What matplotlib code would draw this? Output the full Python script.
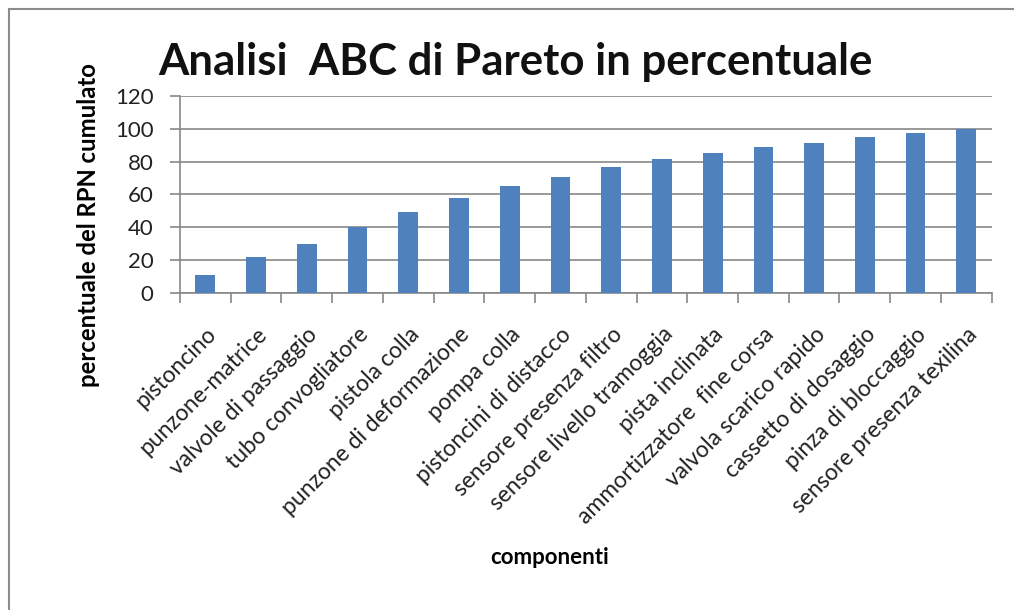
import matplotlib.pyplot as plt
from matplotlib.patches import Rectangle
import numpy as np


COMPONENTS = [
    "pistoncino",
    "punzone-matrice",
    "valvole di passaggio",
    "tubo convogliatore",
    "pistola colla",
    "punzone di deformazione",
    "pompa colla",
    "pistoncini di distacco",
    "sensore presenza filtro",
    "sensore livello tramoggia",
    "pista inclinata",
    "ammortizzatore  fine corsa",
    "valvola scarico rapido",
    "cassetto di dosaggio",
    "pinza di bloccaggio",
    "sensore presenza texilina",
]

# cumulative RPN percentage
RPN_CUM_PCT = [11, 22, 30, 40, 49.3, 57.7, 65, 70.8, 76.9, 81.8, 85.5, 88.9, 91.4, 95, 97.2, 100]

Y_TICKS = [0, 20, 40, 60, 80, 100, 120]

BAR_COLOR = "#4F81BD"
GRID_COLOR = "#878787"
FONT = "Lato"


def main():
    plt.rcParams["font.family"] = [FONT, "DejaVu Sans"]

    fig = plt.figure(figsize=(10.14, 6.10), dpi=100)
    ax = fig.add_axes([0.1775, 0.5197, 0.8005, 0.3229])

    x = np.arange(len(COMPONENTS))
    ax.bar(x, RPN_CUM_PCT, width=0.39, color=BAR_COLOR, zorder=3)

    ax.set_xlim(-0.5, len(COMPONENTS) - 0.5)
    ax.set_ylim(0, 120)
    ax.set_yticks(Y_TICKS)
    ax.set_yticklabels([str(v) for v in Y_TICKS], fontsize=16, color="#222222")

    # category boundaries carry the tick marks, labels sit under the bars
    ax.set_xticks(np.arange(-0.5, len(COMPONENTS)), minor=False)
    ax.set_xticklabels([])
    ax.set_xticks(x, minor=True)
    ax.set_xticklabels(COMPONENTS, minor=True, rotation=45, ha="right",
                       rotation_mode="anchor", fontsize=16.5, color="#222222")
    ax.tick_params(axis="x", which="minor", length=0, pad=22)
    ax.tick_params(axis="x", which="major", length=7, width=1.2, color=GRID_COLOR)
    ax.tick_params(axis="y", length=7, width=1.2, color=GRID_COLOR, pad=12)

    ax.yaxis.grid(True, color=GRID_COLOR, linewidth=1.2, zorder=0)
    for side in ["top", "right"]:
        ax.spines[side].set_visible(False)
    for side in ["left", "bottom"]:
        ax.spines[side].set_color(GRID_COLOR)
        ax.spines[side].set_linewidth(1.2)

    ax.set_ylabel("percentuale del RPN cumulato", fontsize=17.2, fontweight="bold")
    ax.yaxis.set_label_coords(-0.099, 0.345)
    ax.set_xlabel("componenti", fontsize=16, fontweight="bold")
    ax.xaxis.set_label_coords(0.455, -1.29)

    fig.text(0.508, 0.898, "Analisi  ABC di Pareto in percentuale", ha="center",
             va="center", fontsize=31.5, fontweight="bold", color="#111111")

    # chart area border (only left and top edges fall inside the image)
    fig.patches.append(Rectangle((8.5 / 1014, -0.1), 1.2, 1.1 - 8.5 / 610,
                                 transform=fig.transFigure, fill=False,
                                 edgecolor="#8C8C8C", linewidth=1.5))

    fig.savefig("out.png", dpi=100)
    plt.close(fig)


if __name__ == "__main__":
    main()
